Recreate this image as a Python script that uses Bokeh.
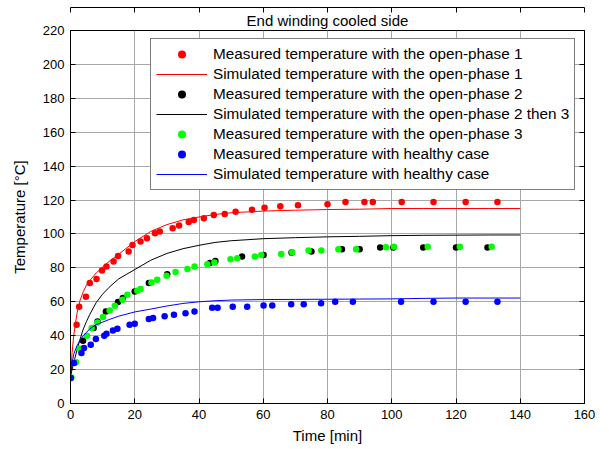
from bokeh.plotting import figure
from bokeh.models import (Range1d, Legend, LegendItem, LinearAxis, FixedTicker,
                          Title, CustomJSTickFormatter)
from bokeh.embed import file_html
from bokeh.resources import INLINE

# ---------------- data ----------------
x_ticks = [0, 20, 40, 60, 80, 100, 120, 140, 160]
y_ticks = [0, 20, 40, 60, 80, 100, 120, 140, 160, 180, 200, 220]

meas1_t = [1.9, 2.7, 4.8, 6.0, 8.1, 9.8, 11.2, 13.4, 14.8, 18.1, 19.3, 21.8, 23.8, 26.3,
           27.8, 31.8, 33.8, 36.8, 38.4, 41.5, 44.6, 48.0, 51.4, 56.5, 60.4, 65.3, 70.8,
           80.0, 85.6, 91.5, 94.1, 103.1, 113.0, 123.0, 132.9]
meas1_T = [46.5, 57, 63, 71, 73.5, 78.4, 80.8, 83.7, 87, 89.6, 93.5, 95.5, 97.5, 100.4,
           101.4, 103.3, 105, 107, 108.2, 109.2, 111.2, 111.8, 113.1, 114.3, 115.5, 116.3,
           116.9, 117.5, 118.8, 118.8, 118.8, 118.8, 118.8, 118.8, 118.8]

sim_t = [0, 0.5, 1, 2, 3, 4, 5, 6, 8, 10, 12, 15, 20, 25, 30, 35, 40, 45, 50, 60, 70,
         80, 90, 100, 110, 120, 130, 140]
sim1_T = [16, 30, 40, 53, 61, 66, 70, 72.5, 77, 80.5, 83.8, 88, 95.5, 101.5, 105.5, 108.3,
          110, 111.5, 112.5, 113.5, 114, 114.4, 114.6, 115, 115, 115, 115, 115]
sim2_T = [16, 20, 24, 31.5, 38, 44, 48.5, 52.5, 59.5, 64.5, 68.5, 73.5, 79, 84.5, 88.5,
          91.3, 93.3, 95, 96, 97.2, 97.8, 98.3, 98.6, 99, 99.2, 99.3, 99.4, 99.4]
simh_T = [16, 24, 29, 34, 37.5, 40, 42, 44, 46.5, 48, 49.5, 51.5, 54, 55.7, 57.5, 59, 60,
          60.6, 61, 61.3, 61.4, 61.5, 61.6, 61.7, 62, 62.2, 62.2, 62.2]

meas2_t = [3.9, 7.2, 8.4, 11.0, 14.8, 16.3, 20.0, 24.4, 30.1, 43.4, 45.1, 53.4, 60.1, 68.8,
           75.0, 84.5, 90.0, 96.4, 100.5, 109.8, 120.0, 129.8]
meas2_T = [37, 44.5, 48.4, 54.3, 59.8, 62.2, 66, 71, 76.3, 82.8, 84.1, 86.7, 87.6, 89, 89.6,
           91, 91, 92, 92, 92, 92, 92]

meas3_t = [0.3, 1.7, 2.7, 5.1, 6.6, 8.4, 10.1, 12.2, 13.8, 16.2, 17.7, 20.8, 21.8, 25.2, 27.0,
           29.9, 32.7, 36.4, 38.6, 42.6, 44.8, 49.8, 51.9, 57.4, 59.4, 65.6, 69.0, 74.1, 78.1,
           83.4, 88.9, 98.2, 100.7, 111.2, 121.2, 131.1]
meas3_T = [15.3, 24.3, 32.4, 40, 44.5, 47.8, 51, 54.9, 57.6, 61.2, 64.1, 66.5, 67.6, 71.4, 73,
           75.3, 77.5, 79.4, 80.8, 82.2, 83.1, 85.1, 85.7, 86.7, 87.6, 88.2, 89.2, 90.2, 90.2,
           91, 91, 92.2, 92.5, 92.5, 92.5, 92.5]

meash_t = [0.1, 1.1, 3.4, 4.2, 6.3, 7.9, 10.5, 11.2, 13.2, 14.6, 18.4, 20.0, 24.4, 25.7, 29.3,
           32.2, 35.8, 38.6, 44.1, 45.8, 50.5, 55.0, 60.1, 62.8, 68.7, 72.6, 78.0, 82.4, 87.9,
           102.9, 113.0, 123.0, 132.9]
meash_T = [15.1, 23.9, 29.8, 32.7, 34.7, 38, 40, 41.2, 43.1, 44.1, 46.5, 47, 49.8, 50.4, 51.4,
           52.4, 53.3, 54.3, 56.5, 56.5, 57, 57, 57.8, 57.8, 58.6, 58.6, 59.2, 60, 60, 60, 60,
           60, 60]

labels = ["Measured temperature with the open-phase 1",
          "Simulated temperature with the open-phase 1",
          "Measured temperature with the open-phase 2",
          "Simulated temperature with the open-phase 2 then 3",
          "Measured temperature with the open-phase 3",
          "Measured temperature with healthy case",
          "Simulated temperature with healthy case"]

FONT = "Liberation Sans"

p = figure(width=609, height=449, output_backend="svg", toolbar_location=None,
           x_range=Range1d(0, 160), y_range=Range1d(0, 220),
           min_border_left=70, min_border_right=25, min_border_top=30,
           min_border_bottom=46)
p.title = None
p.add_layout(Title(text="End winding cooled side", align="center",
                   text_font=FONT, text_font_size="15px", text_font_style="normal",
                   text_color="black", standoff=4), "above")

p.outline_line_color = "black"
p.outline_line_width = 1
p.background_fill_color = "white"
p.border_fill_color = "white"

for ax, ticks in ((p.xaxis[0], x_ticks), (p.yaxis[0], y_ticks)):
    ax.ticker = FixedTicker(ticks=ticks)
    ax.major_tick_in = 5
    ax.major_tick_out = 0
    ax.minor_tick_line_color = None
    ax.axis_line_color = "black"
    ax.major_tick_line_color = "black"
    ax.major_label_text_font = FONT
    ax.major_label_text_font_size = "13px"
    ax.major_label_text_color = "black"
    ax.axis_label_text_font = FONT
    ax.axis_label_text_font_size = "15px"
    ax.axis_label_text_font_style = "normal"
    ax.axis_label_text_color = "black"

p.xaxis.major_label_standoff = 6
p.xaxis.axis_label_standoff = 5
p.yaxis.major_label_standoff = 6
p.yaxis.axis_label_standoff = 12

p.xaxis.axis_label = "Time [min]"
p.yaxis.axis_label = "Temperature [°C]"

for loc, ticks, sto in (("right", y_ticks, 0), ("above", x_ticks, 5)):
    ax = LinearAxis(ticker=FixedTicker(ticks=ticks),
                    formatter=CustomJSTickFormatter(code="return ''"),
                    major_tick_in=5, major_tick_out=0, minor_tick_line_color=None,
                    major_label_text_font_size="0px", major_label_standoff=sto,
                    axis_line_color="black", major_tick_line_color="black")
    p.add_layout(ax, loc)

p.xgrid.ticker = FixedTicker(ticks=x_ticks)
p.ygrid.ticker = FixedTicker(ticks=y_ticks)
p.grid.grid_line_color = "#a8a8a8"
p.grid.grid_line_width = 1

S = 6.5
r1 = p.scatter(meas1_t, meas1_T, size=S, fill_color="#ff0000", line_color=None)
l1 = p.line(sim_t, sim1_T, line_color="#ff0000", line_width=1)
r2 = p.scatter(meas2_t, meas2_T, size=S, fill_color="black", line_color=None)
l2 = p.line(sim_t, sim2_T, line_color="black", line_width=1)
r3 = p.scatter(meas3_t, meas3_T, size=S, fill_color="#00ff00", line_color=None)
rh = p.scatter(meash_t, meash_T, size=S, fill_color="#0000ff", line_color=None)
lh = p.line(sim_t, simh_T, line_color="#0000ff", line_width=1)

items = [LegendItem(label=lab, renderers=[r]) for lab, r in
         zip(labels, [r1, l1, r2, l2, r3, rh, lh])]
legend = Legend(items=items, location=(80, 213), orientation="vertical",
                label_text_font=FONT, label_text_font_size="15.3px",
                label_text_color="black", glyph_width=51, glyph_height=20,
                label_height=20, spacing=0, padding=5, label_standoff=6,
                border_line_color="black", border_line_width=1,
                background_fill_color="white", background_fill_alpha=1,
                margin=0)
p.add_layout(legend, "center")

open("out.html", "w").write(file_html(p, INLINE))
